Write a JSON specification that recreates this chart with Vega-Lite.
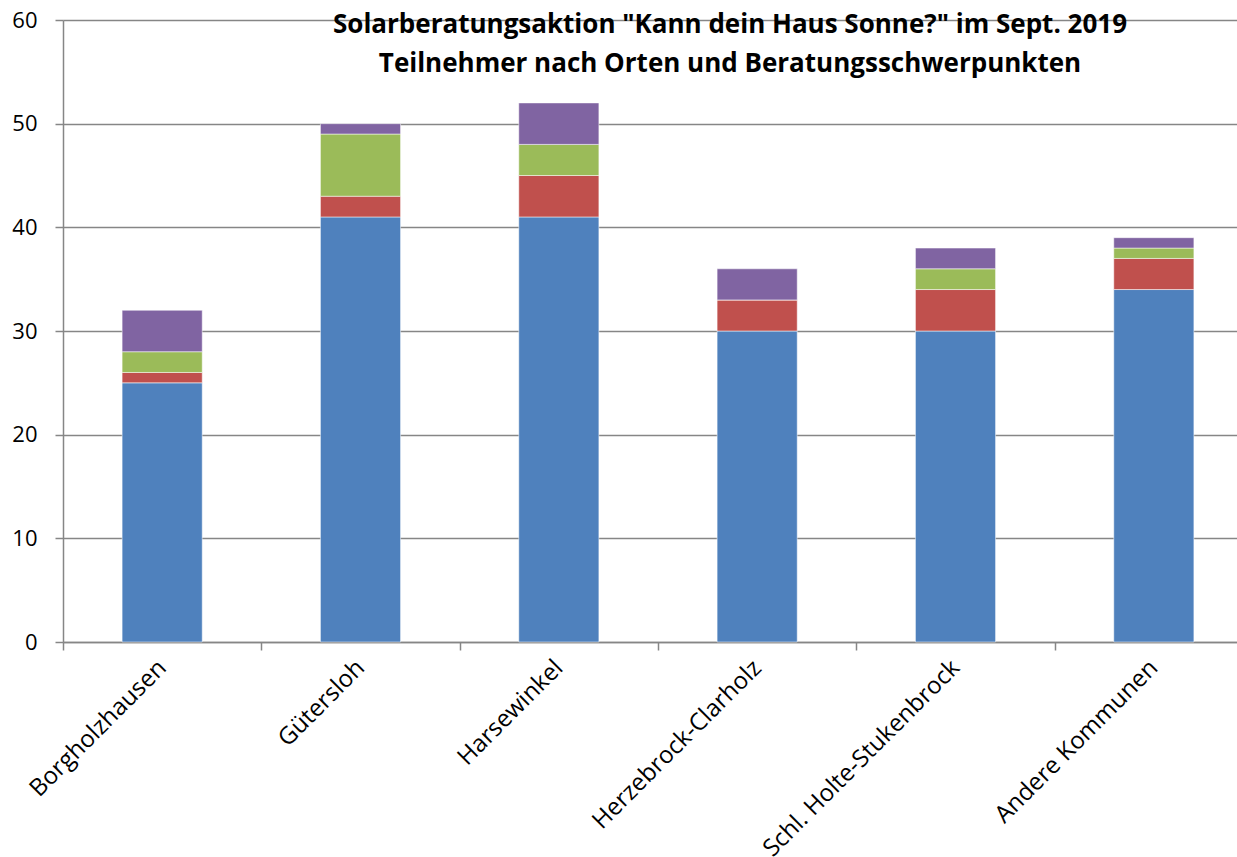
{
  "$schema": "https://vega.github.io/schema/vega-lite/v6.json",
  "width": 1174,
  "height": 622,
  "autosize": {"type": "none"},
  "padding": {"left": 63, "top": 20, "right": 0, "bottom": 215},
  "background": "white",
  "title": {
    "text": ["Solarberatungsaktion \"Kann dein Haus Sonne?\" im Sept. 2019", "Teilnehmer nach Orten und Beratungsschwerpunkten"],
    "font": "Open Sans",
    "fontSize": 26,
    "fontWeight": "bold",
    "lineHeight": 39,
    "color": "black",
    "anchor": "middle",
    "frame": "group",
    "dx": 80,
    "baseline": "alphabetic",
    "offset": -89
  },
  "data": {
    "values": [
      {"Ort": "Borgholzhausen", "Schwerpunkt": "S1", "Teilnehmer": 25},
      {"Ort": "Borgholzhausen", "Schwerpunkt": "S2", "Teilnehmer": 1},
      {"Ort": "Borgholzhausen", "Schwerpunkt": "S3", "Teilnehmer": 2},
      {"Ort": "Borgholzhausen", "Schwerpunkt": "S4", "Teilnehmer": 4},
      {"Ort": "Gütersloh", "Schwerpunkt": "S1", "Teilnehmer": 41},
      {"Ort": "Gütersloh", "Schwerpunkt": "S2", "Teilnehmer": 2},
      {"Ort": "Gütersloh", "Schwerpunkt": "S3", "Teilnehmer": 6},
      {"Ort": "Gütersloh", "Schwerpunkt": "S4", "Teilnehmer": 1},
      {"Ort": "Harsewinkel", "Schwerpunkt": "S1", "Teilnehmer": 41},
      {"Ort": "Harsewinkel", "Schwerpunkt": "S2", "Teilnehmer": 4},
      {"Ort": "Harsewinkel", "Schwerpunkt": "S3", "Teilnehmer": 3},
      {"Ort": "Harsewinkel", "Schwerpunkt": "S4", "Teilnehmer": 4},
      {"Ort": "Herzebrock-Clarholz", "Schwerpunkt": "S1", "Teilnehmer": 30},
      {"Ort": "Herzebrock-Clarholz", "Schwerpunkt": "S2", "Teilnehmer": 3},
      {"Ort": "Herzebrock-Clarholz", "Schwerpunkt": "S3", "Teilnehmer": 0},
      {"Ort": "Herzebrock-Clarholz", "Schwerpunkt": "S4", "Teilnehmer": 3},
      {"Ort": "Schl. Holte-Stukenbrock", "Schwerpunkt": "S1", "Teilnehmer": 30},
      {"Ort": "Schl. Holte-Stukenbrock", "Schwerpunkt": "S2", "Teilnehmer": 4},
      {"Ort": "Schl. Holte-Stukenbrock", "Schwerpunkt": "S3", "Teilnehmer": 2},
      {"Ort": "Schl. Holte-Stukenbrock", "Schwerpunkt": "S4", "Teilnehmer": 2},
      {"Ort": "Andere Kommunen", "Schwerpunkt": "S1", "Teilnehmer": 34},
      {"Ort": "Andere Kommunen", "Schwerpunkt": "S2", "Teilnehmer": 3},
      {"Ort": "Andere Kommunen", "Schwerpunkt": "S3", "Teilnehmer": 1},
      {"Ort": "Andere Kommunen", "Schwerpunkt": "S4", "Teilnehmer": 1}
    ]
  },
  "mark": {"type": "bar", "width": {"band": 0.404}, "stroke": "white", "strokeOpacity": 0.5, "strokeWidth": 1},
  "encoding": {
    "x": {
      "field": "Ort",
      "type": "nominal",
      "sort": null,
      "scale": {"range": [0, 1190], "paddingInner": 0, "paddingOuter": 0},
      "axis": {
        "title": null,
        "labelAngle": -45,
        "labelAlign": "right",
        "labelBaseline": "middle",
        "labelFont": "Open Sans",
        "labelFontSize": 24,
        "labelColor": "black",
        "labelPadding": 14,
        "tickBand": "extent",
        "tickSize": 8,
        "tickColor": "#868686",
        "tickWidth": 1.5,
        "domainColor": "#868686",
        "domainWidth": 1.5,
        "grid": false,
        "labelOverlap": false,
        "labelLimit": 0
      }
    },
    "y": {
      "field": "Teilnehmer",
      "type": "quantitative",
      "stack": "zero",
      "scale": {"domain": [0, 60], "nice": false},
      "axis": {
        "title": null,
        "values": [0, 10, 20, 30, 40, 50, 60],
        "labelFont": "Open Sans",
        "labelFontSize": 22,
        "labelColor": "black",
        "labelPadding": 18,
        "tickSize": 8,
        "tickColor": "#868686",
        "tickWidth": 1.5,
        "domainColor": "#868686",
        "domainWidth": 1.5,
        "gridColor": "#868686",
        "gridWidth": 1.5
      }
    },
    "color": {
      "field": "Schwerpunkt",
      "type": "nominal",
      "scale": {"domain": ["S1", "S2", "S3", "S4"], "range": ["#4F81BD", "#C0504D", "#9BBB59", "#8064A2"]},
      "legend": null
    },
    "order": {"field": "Schwerpunkt", "sort": "ascending"}
  },
  "config": {"view": {"stroke": null}}
}
